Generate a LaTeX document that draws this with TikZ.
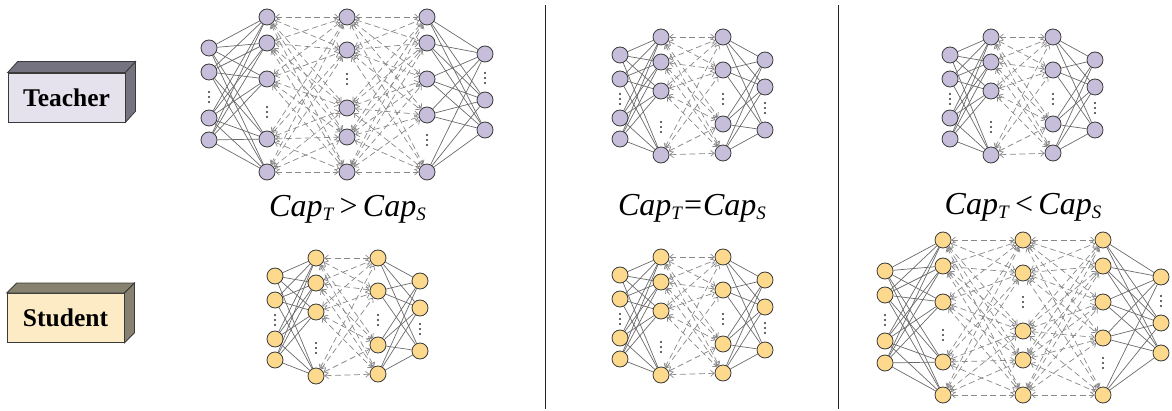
\documentclass[tikz,border=0pt]{standalone}
\usepackage{fontspec}
\setmainfont{Liberation Serif}
\usetikzlibrary{arrows.meta}
\pgfdeclarelayer{bg}
\pgfsetlayers{bg,main}

\definecolor{tface}{HTML}{E5E2ED}
\definecolor{tdark}{HTML}{75737F}
\definecolor{sface}{HTML}{FDEBC6}
\definecolor{sdark}{HTML}{878170}
\definecolor{tnode}{HTML}{C6BEDA}
\definecolor{snode}{HTML}{FCD98C}
\definecolor{rim}{HTML}{3A3A3A}
\definecolor{wiregray}{HTML}{6A6A6A}
\definecolor{dashgray}{HTML}{888888}

\tikzset{
  neuron/.style={circle, draw=rim, line width=0.8pt, minimum size=16pt, inner sep=0pt},
  tn/.style={neuron, fill=tnode},
  sn/.style={neuron, fill=snode},
  wire/.style={draw=wiregray, line width=0.7pt},
  dwire/.style={draw=dashgray, line width=0.7pt, dash pattern=on 6pt off 3.5pt,
    <->, >={Straight Barb[length=3.5pt,width=6pt]}},
  blockface/.style={draw=rim, line width=0.8pt, minimum width=117pt, minimum height=49pt,
    inner sep=0pt, font=\fontsize{25.5}{30}\selectfont\bfseries},
  caplabel/.style={anchor=base, inner sep=0pt, font=\fontsize{32}{36}\selectfont},
  divider/.style={draw=black!85, line width=0.8pt}
}

% one layer of neurons: net name, layer index, x, list of y, style
\newcommand\mklayer[5]{%
  \foreach \yy [count=\k] in {#4} {\node[#5] (#1-#2-\k) at (#3,\yy) {};}}
% vertical ellipsis made of three dots
\newcommand\vdotsat[2]{%
  \foreach \dd in {-5,0,5} {\fill[black!80] (#1,#2+\dd) circle[radius=1.2pt];}}
% every neuron of one layer to every neuron of the next
\newcommand\linkall[6]{%
  \foreach \i in {1,...,#3} {\foreach \j in {1,...,#5} {\draw[#6] (#1-#2-\i) -- (#1-#4-\j);}}}
% subscripted capacity symbol
\newcommand\capof[1]{\textit{Cap}\lower4pt\hbox{\fontsize{19}{20}\selectfont\textit{#1}}}

% four-layer network
\newcommand\smallnet[2]{%
  \mklayer{#1}{1}{-41}{18,42,81,102}{#2}
  \mklayer{#1}{2}{0}{0,25,54,118}{#2}
  \mklayer{#1}{3}{62}{0,33,87,116}{#2}
  \mklayer{#1}{4}{104}{23,50,93}{#2}
  \vdotsat{-41}{62}\vdotsat{0}{90}\vdotsat{62}{62}\vdotsat{104}{71}
  \begin{pgfonlayer}{bg}
    \linkall{#1}{1}{4}{2}{4}{wire}
    \linkall{#1}{2}{4}{3}{4}{dwire}
    \linkall{#1}{3}{4}{4}{3}{wire}
  \end{pgfonlayer}}

% five-layer network
\newcommand\bignet[2]{%
  \mklayer{#1}{1}{-58}{31,55,101,123}{#2}
  \mklayer{#1}{2}{0}{0,26,62,122,155}{#2}
  \mklayer{#1}{3}{80}{0,33,91,120,155}{#2}
  \mklayer{#1}{4}{160}{0,26,62,98,155}{#2}
  \mklayer{#1}{5}{218}{37,83,113}{#2}
  \vdotsat{-58}{80}\vdotsat{0}{95}\vdotsat{80}{62}\vdotsat{160}{123}\vdotsat{218}{61}
  \begin{pgfonlayer}{bg}
    \linkall{#1}{1}{4}{2}{5}{wire}
    \linkall{#1}{2}{5}{3}{5}{dwire}
    \linkall{#1}{3}{5}{4}{5}{dwire}
    \linkall{#1}{4}{5}{5}{3}{wire}
  \end{pgfonlayer}}

\begin{document}
\begin{tikzpicture}[x=1pt, y=-1pt]
\useasboundingbox (0,0) rectangle (1172,411);

% role blocks
\node[blockface, fill=tface] (teacher) at (66.5,97.5) {Teacher};
\draw[rim, line width=0.8pt, fill=tdark] (teacher.north west) -- ([shift={(10,-11)}]teacher.north west)
  -- ([shift={(10,-11)}]teacher.north east) -- (teacher.north east) -- cycle;
\draw[rim, line width=0.8pt, fill=tdark] (teacher.north east) -- ([shift={(10,-11)}]teacher.north east)
  -- ([shift={(10,-11)}]teacher.south east) -- (teacher.south east) -- cycle;

\node[blockface, fill=sface] (student) at (65.5,318) {Student};
\draw[rim, line width=0.8pt, fill=sdark] (student.north west) -- ([shift={(10,-10)}]student.north west)
  -- ([shift={(10,-10)}]student.north east) -- (student.north east) -- cycle;
\draw[rim, line width=0.8pt, fill=sdark] (student.north east) -- ([shift={(10,-10)}]student.north east)
  -- ([shift={(10,-10)}]student.south east) -- (student.south east) -- cycle;

% panel separators
\draw[divider] (545,5) -- (545,409);
\draw[divider] (838,5) -- (838,409);

% teacher row
\begin{scope}[shift={(267,17)}]\bignet{ta}{tn}\end{scope}
\begin{scope}[shift={(661,37)}]\smallnet{tb}{tn}\end{scope}
\begin{scope}[shift={(991,37)}]\smallnet{tc}{tn}\end{scope}

% student row
\begin{scope}[shift={(316,258)}]\smallnet{sa}{sn}\end{scope}
\begin{scope}[shift={(661,257)}]\smallnet{sb}{sn}\end{scope}
\begin{scope}[shift={(943,240)}]\bignet{sc}{sn}\end{scope}

% capacity relations
\node[caplabel] (rel1) at (347.5,217) {\capof{T}\,>\,\capof{S}};
\node[caplabel] (rel2) at (692,216) {\capof{T}\kern1pt=\kern1pt\capof{S}};
\node[caplabel] (rel3) at (1023,215) {\capof{T}\,<\,\capof{S}};
\end{tikzpicture}
\end{document}
